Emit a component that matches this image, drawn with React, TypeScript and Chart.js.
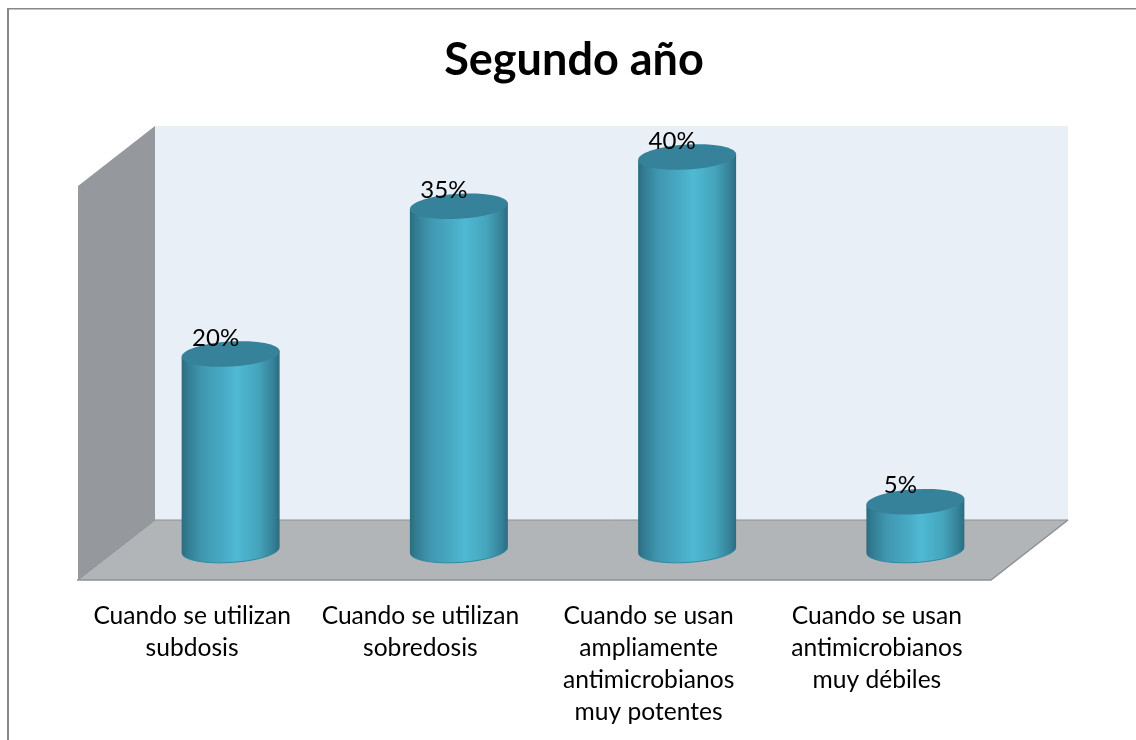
import React, { useEffect, useRef } from "react";
import { Chart, registerables } from "chart.js";

Chart.register(...registerables);

const titleText = "Segundo año";
const categories: string[][] = [
  ["Cuando se utilizan", "subdosis"],
  ["Cuando se utilizan", "sobredosis"],
  ["Cuando se usan", "ampliamente", "antimicrobianos", "muy potentes"],
  ["Cuando se usan", "antimicrobianos", "muy débiles"],
];
const values = [20, 35, 40, 5];
const FONT = "Lato, Carlito, 'Open Sans', sans-serif";

const DEPTH_X = 77;
const DEPTH_Y = -60;
const MID = 0.5;
const RY = 12.5;
const TILT = (-3.5 * Math.PI) / 180;

const scene3d = {
  id: "scene3d",
  beforeDraw(chart: any) {
    const { ctx } = chart;
    ctx.save();
    ctx.fillStyle = "#ffffff";
    ctx.fillRect(0, 0, chart.width, chart.height);
    ctx.fillStyle = "#878787";
    ctx.fillRect(7, 8, 2, chart.height - 8);
    ctx.fillRect(7, 8, chart.width - 7, 1.5);
    ctx.restore();
  },
  beforeDatasetsDraw(chart: any) {
    const { ctx, chartArea: a } = chart;
    const L = a.left, R = a.right, T = a.top, B = a.bottom;
    const dx = DEPTH_X, dy = DEPTH_Y;
    ctx.save();
    // back wall
    ctx.fillStyle = "#e8eff6";
    ctx.fillRect(L + dx, T + dy, R - L, B - T);
    // left wall
    ctx.fillStyle = "#95989c";
    ctx.beginPath();
    ctx.moveTo(L, T);
    ctx.lineTo(L + dx, T + dy);
    ctx.lineTo(L + dx, B + dy);
    ctx.lineTo(L, B);
    ctx.closePath();
    ctx.fill();
    // floor
    ctx.fillStyle = "#b1b5b8";
    ctx.beginPath();
    ctx.moveTo(L, B);
    ctx.lineTo(L + dx, B + dy);
    ctx.lineTo(R + dx, B + dy);
    ctx.lineTo(R, B);
    ctx.closePath();
    ctx.fill();
    // floor edges
    ctx.strokeStyle = "#8e9194";
    ctx.lineWidth = 1;
    ctx.beginPath();
    ctx.moveTo(L, B);
    ctx.lineTo(L + dx, B + dy);
    ctx.lineTo(R + dx, B + dy);
    ctx.stroke();
    ctx.lineWidth = 1.5;
    ctx.beginPath();
    ctx.moveTo(R + dx, B + dy);
    ctx.lineTo(R, B);
    ctx.lineTo(L - 1, B);
    ctx.stroke();
    ctx.restore();
  },
  afterDatasetsDraw(chart: any) {
    const { ctx } = chart;
    const meta = chart.getDatasetMeta(0);
    ctx.save();
    meta.data.forEach((bar: any, i: number) => {
      const p = bar.getProps(["x", "y", "base", "width"], true);
      const cx = p.x + DEPTH_X * MID;
      const ty = p.y + DEPTH_Y * MID + 1;
      const by = p.base + DEPTH_Y * MID;
      const rx = p.width / 2;
      const ex = rx * Math.cos(TILT);
      const ey = rx * Math.sin(TILT);
      const g = ctx.createLinearGradient(cx - rx, 0, cx + rx, 0);
      g.addColorStop(0, "#2d6b7f");
      g.addColorStop(0.06, "#327c92");
      g.addColorStop(0.2, "#4096af");
      g.addColorStop(0.42, "#48aac4");
      g.addColorStop(0.56, "#4fb9d3");
      g.addColorStop(0.78, "#45a5bd");
      g.addColorStop(0.94, "#348096");
      g.addColorStop(1, "#2d6b7f");
      ctx.fillStyle = g;
      ctx.beginPath();
      ctx.ellipse(cx, by, rx, RY, TILT, 0, Math.PI);
      ctx.lineTo(cx - ex, ty - ey);
      ctx.lineTo(cx + ex, ty + ey);
      ctx.closePath();
      ctx.fill();
      ctx.strokeStyle = "#2f8aa3";
      ctx.lineWidth = 1;
      ctx.beginPath();
      ctx.ellipse(cx, by, rx, RY, TILT, 0.15, Math.PI - 0.15);
      ctx.stroke();
      ctx.fillStyle = "#36829b";
      ctx.beginPath();
      ctx.ellipse(cx, ty, rx, RY, TILT, 0, Math.PI * 2);
      ctx.fill();
      // value label
      ctx.fillStyle = "#000000";
      ctx.font = `24px ${FONT}`;
      ctx.textAlign = "center";
      ctx.textBaseline = "middle";
      ctx.fillText(`${values[i]}%`, cx - 15, ty - 16);
    });
    ctx.restore();
  },
};

export default function App() {
  const ref = useRef<HTMLCanvasElement>(null);
  useEffect(() => {
    const chart = new Chart(ref.current as HTMLCanvasElement, {
      type: "bar",
      plugins: [scene3d],
      data: {
        labels: categories as any,
        datasets: [
          {
            data: values,
            backgroundColor: "rgba(0,0,0,0)",
            borderWidth: 0,
            barPercentage: 0.43,
            categoryPercentage: 1,
          },
        ],
      },
      options: {
        responsive: false,
        animation: false,
        layout: { padding: { left: 12, right: 0, top: 0, bottom: 0 } },
        plugins: {
          legend: { display: false },
          tooltip: { enabled: false },
          title: {
            display: true,
            text: titleText,
            color: "#000000",
            font: { family: FONT, size: 45, weight: "bold" },
            padding: { top: 33, bottom: 99 },
            align: "center",
          },
        },
        scales: {
          x: {
            position: "bottom",
            grid: { display: false },
            border: { display: false },
            ticks: {
              color: "#000000",
              font: { family: FONT, size: 24.6, lineHeight: "32px" } as any,
              padding: 12,
              maxRotation: 0,
              minRotation: 0,
              autoSkip: false,
            },
            afterFit: (s: any) => {
              s.height = 160;
            },
          },
          y: {
            position: "left",
            min: 0,
            max: 40,
            grid: { display: false },
            border: { display: false },
            ticks: { display: false },
            afterFit: (s: any) => {
              s.width = 66;
            },
          },
          yRight: {
            position: "right",
            display: true,
            min: 0,
            max: 1,
            grid: { display: false },
            border: { display: false },
            ticks: { display: false },
            afterFit: (s: any) => {
              s.width = 145;
            },
          },
        },
      } as any,
    });
    return () => chart.destroy();
  }, []);
  return (
    <div style={{ position: "fixed", left: 0, top: 0, width: 1136, height: 740 }}>
      <canvas ref={ref} width={1136} height={740} style={{ display: "block" }} />
    </div>
  );
}
